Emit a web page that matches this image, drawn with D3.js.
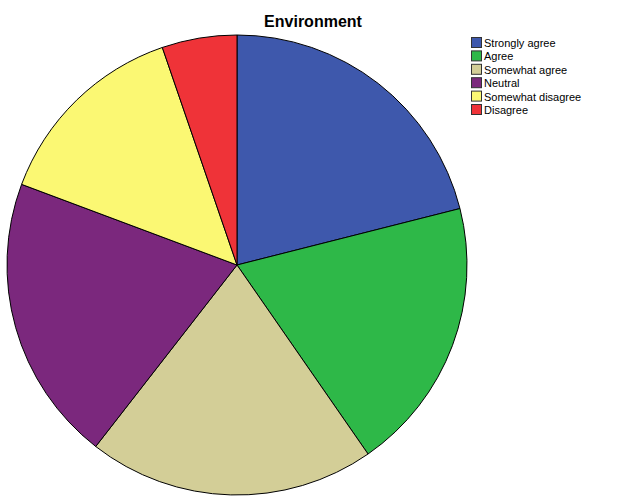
<!DOCTYPE html>
<html>
<head>
<meta charset="utf-8">
<script src="https://cdn.jsdelivr.net/npm/d3@7"></script>
<style>
  body { margin: 0; background: #fff; }
  text { font-family: "Liberation Sans", Arial, sans-serif; }
</style>
</head>
<body>
<script>
'use strict';

// chart data
const categories = ["Strongly agree", "Agree", "Somewhat agree", "Neutral", "Somewhat disagree", "Disagree"];
const counts = [24, 22, 23, 23, 16, 6];
const colors = ["#3e58ac", "#2eb848", "#d3ce97", "#7b287d", "#fbf873", "#ef3338"];

const width = 626, height = 501;

const svg = d3.select('body')
  .append('svg')
  .attr('width', width)
  .attr('height', height);

// title
svg.append('text')
  .attr('x', 313)
  .attr('y', 27)
  .attr('text-anchor', 'middle')
  .style('font-size', '16px')
  .style('font-weight', 'bold')
  .text('Environment');

// pie, clockwise from 12 o'clock in data order
const pie = d3.pie().sort(null).value(d => d);
const arc = d3.arc().innerRadius(0).outerRadius(230);

const g = svg.append('g')
  .attr('transform', 'translate(237, 265)');

g.selectAll('path')
  .data(pie(counts))
  .enter()
  .append('path')
    .attr('d', arc)
    .attr('fill', (d, i) => colors[i])
    .attr('stroke', '#000')
    .attr('stroke-width', 1);

// legend
const legend = svg.append('g')
  .attr('transform', 'translate(471, 37)');

const rows = legend.selectAll('g')
  .data(categories)
  .enter()
  .append('g')
    .attr('transform', (d, i) => `translate(0, ${i * 13.4})`);

rows.append('rect')
  .attr('x', 0.5)
  .attr('y', 0.5)
  .attr('width', 10)
  .attr('height', 10)
  .attr('fill', (d, i) => colors[i])
  .attr('stroke', '#333')
  .attr('stroke-width', 1);

rows.append('text')
  .attr('x', 13)
  .attr('y', 10)
  .style('font-size', '11px')
  .text(d => d);
</script>
</body>
</html>
